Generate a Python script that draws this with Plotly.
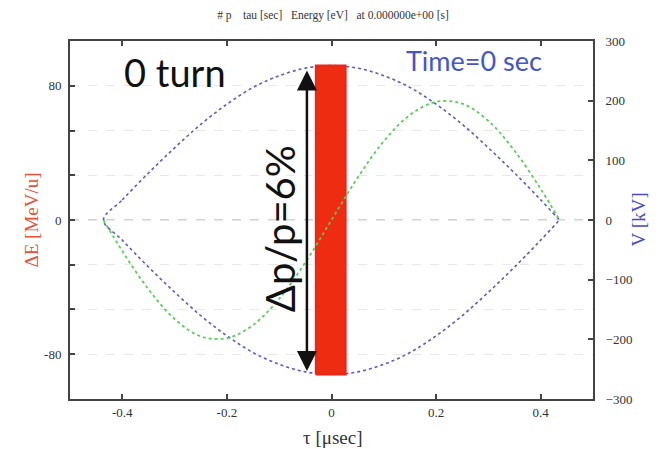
import plotly.graph_objects as go

# ---- data ----
tau = [-0.436, -0.4, -0.35, -0.3, -0.25, -0.2, -0.15, -0.1, -0.05, 0.0,
       0.05, 0.1, 0.15, 0.2, 0.25, 0.3, 0.35, 0.4, 0.436]
sep_upper = [0, 12, 28, 43, 57, 69, 79, 86, 90.5, 92,
             90.5, 86, 79, 69, 57, 43, 28, 12, 0]
sep_lower = [0, -12, -28, -43, -57, -69, -79, -86, -90.5, -92,
             -90.5, -86, -79, -69, -57, -43, -28, -12, 0]
rf_voltage = [0, -52, -116, -166, -195, -198, -176, -132, -71, 0,
              71, 132, 176, 198, 195, 166, 116, 52, 0]

band_tau = [-0.030, 0.027]
band_dE = [-92, 92]

arrow_tau = -0.047
arrow_dE = [-90, 90]

x_ticks = [-0.4, -0.2, 0, 0.2, 0.4]
x_ticktext = ["-0.4", "-0.2", "0", "0.2", "0.4"]
y_ticks = [-80, -53.33, -26.67, 0, 26.67, 53.33, 80]
y_ticktext = ["-80", "", "", "0", "", "", "80"]
y2_ticks = [-300, -200, -100, 0, 100, 200, 300]

title_text = "#\u00a0p\u00a0\u00a0\u00a0\u00a0tau\u00a0[sec]\u00a0\u00a0\u00a0Energy\u00a0[eV]\u00a0\u00a0\u00a0at\u00a00.000000e+00\u00a0[s]"

fig = go.Figure()

# separatrix (closed loop)
fig.add_trace(go.Scatter(
    x=tau + tau[::-1], y=sep_upper + sep_lower[::-1],
    mode="lines", line=dict(color="#5b5bc8", width=1.6, dash="dot", shape="spline"),
    hoverinfo="skip", showlegend=False, yaxis="y"))

# particle band
fig.add_trace(go.Scatter(
    x=[band_tau[0], band_tau[1], band_tau[1], band_tau[0], band_tau[0]],
    y=[band_dE[0], band_dE[0], band_dE[1], band_dE[1], band_dE[0]],
    mode="lines", fill="toself", fillcolor="#ee2c12",
    line=dict(color="#e8281a", width=2), hoverinfo="skip", showlegend=False, yaxis="y"))

# RF voltage
fig.add_trace(go.Scatter(
    x=tau, y=rf_voltage, mode="lines",
    line=dict(color="#55d055", width=1.8, dash="dot", shape="spline"),
    hoverinfo="skip", showlegend=False, yaxis="y2"))

serif = "Liberation Serif"
axis_common = dict(showline=True, linecolor="#444", linewidth=2, ticks="inside",
                   ticklen=5, tickwidth=1.5, tickcolor="#444",
                   tickfont=dict(family=serif, size=13, color="#333333"))

fig.update_layout(
    width=665, height=449,
    margin=dict(l=70, r=72, t=41, b=50),
    paper_bgcolor="white", plot_bgcolor="white",
    font=dict(family=serif, color="#333333"),
    title=dict(text=title_text, x=(333) / 665, xanchor="center", y=1 - 15 / 449,
               yanchor="middle", font=dict(family=serif, size=11.5, color="#333")),
    xaxis=dict(range=[-0.5, 0.5], tickvals=x_ticks, ticktext=x_ticktext,
               mirror="ticks", showgrid=False, zeroline=False, **axis_common),
    yaxis=dict(range=[-106.67, 106.67], tickvals=y_ticks, ticktext=y_ticktext,
               mirror=True, showgrid=True, gridcolor="#e8e8e8", griddash="dash",
               gridwidth=1, zeroline=False, ticklabelstandoff=4, **axis_common),
    yaxis2=dict(range=[-300, 300], tickvals=y2_ticks, overlaying="y", side="right",
                showgrid=False, zeroline=False, ticklabelstandoff=8, **axis_common),
)

# zero reference line
fig.add_shape(type="line", xref="paper", x0=0, x1=1, yref="y", y0=0, y1=0,
              line=dict(color="#a8a8a8", width=1.2, dash="dash"), layer="below")

# double arrow
fig.add_annotation(x=arrow_tau, y=arrow_dE[0], ax=arrow_tau, ay=arrow_dE[1],
                   xref="x", yref="y", axref="x", ayref="y", text="",
                   showarrow=True, arrowside="end+start", arrowhead=2,
                   arrowsize=1.6, arrowwidth=2.5, arrowcolor="#111")

fig.add_annotation(x=-0.097, y=-5, xref="x", yref="y", text="\u0394p/p=6%",
                   textangle=-90, showarrow=False,
                   font=dict(family="Lato", size=40, color="#111"))
fig.add_annotation(x=-0.30, y=88, xref="x", yref="y", text="0 turn",
                   showarrow=False, font=dict(family="Lato", size=38, color="#111"))
fig.add_annotation(x=0.272, y=95, xref="x", yref="y", text="Time=0 sec",
                   showarrow=False, font=dict(family="Lato", size=27, color="#4455c8"))

# axis titles
fig.add_annotation(x=(333 - 70) / 523, y=(399 - 437) / 358, xref="paper", yref="paper",
                   text="\u03c4 [\u03bcsec]", showarrow=False, yanchor="middle",
                   font=dict(family=serif, size=19, color="#333"))
fig.add_annotation(x=(18 - 70) / 523, y=0.5, xref="paper", yref="paper",
                   text="\u0394E [MeV/u]", textangle=-90, showarrow=False,
                   font=dict(family=serif, size=19, color="#e8503a"))
fig.add_annotation(x=(650 - 70) / 523, y=0.5, xref="paper", yref="paper",
                   text="V [kV]", textangle=-90, showarrow=False,
                   font=dict(family=serif, size=19, color="#4a4ac4"))

fig.write_html("out.html", config={"displayModeBar": False},
               post_script="document.body.style.margin='0px';")
